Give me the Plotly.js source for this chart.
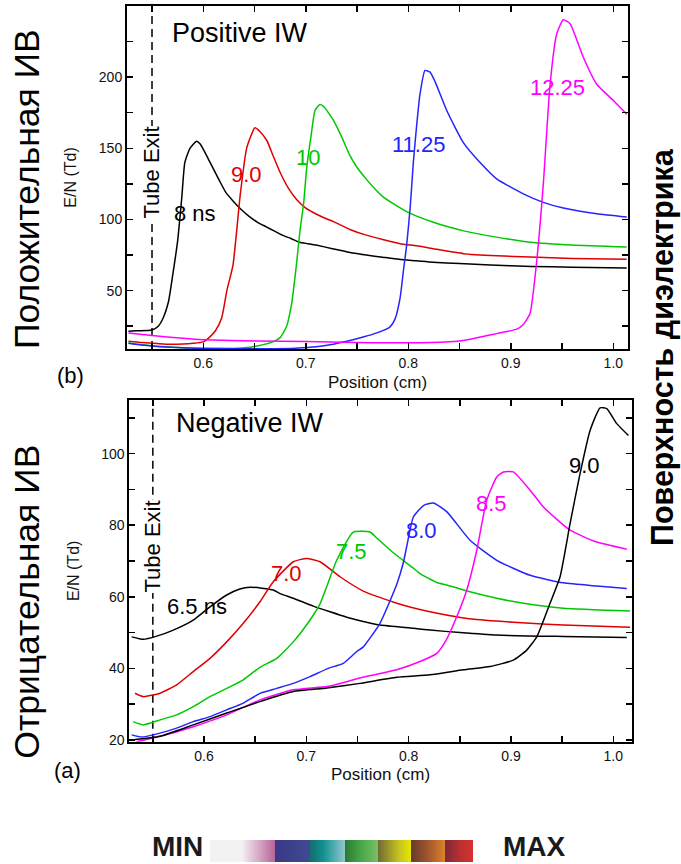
<!DOCTYPE html>
<html><head><meta charset="utf-8">
<script src="https://cdn.plot.ly/plotly-3.0.1.min.js"></script>
<style>html,body{margin:0;padding:0;background:#fff}#chart{width:681px;height:864px}</style>
</head><body><div id="chart"></div><script>
// ---------- Positive IW (top panel, b) ----------
var posLabels = ['8 ns', '9.0', '10', '11.25', '12.25'];
var pos8x = [0.527,0.535,0.545,0.550,0.556,0.561,0.566,0.570,0.575,0.579,0.582,0.587,0.5936,0.597,0.601,0.606,0.611,0.616,0.622,0.629,0.637,0.645,0.653,0.661,0.669,0.677,0.686,0.694,0.702,0.710,0.726,0.742,0.759,0.775,0.791,0.808,0.824,0.850,0.880,0.920,0.960,1.013];
var pos8y = [21.5,21.8,22,22.3,25,31,42,60,85,115,140,150,155,153,148,141,134,127,119,113,107,102,98,95,92,89,86.5,84,83,82,79.5,77,75,73.5,72,71,70,69,68,67,66.5,66];
var pos9x = [0.527,0.540,0.555,0.567,0.580,0.590,0.600,0.6065,0.612,0.618,0.623,0.629,0.636,0.6423,0.6504,0.655,0.662,0.668,0.675,0.683,0.691,0.700,0.711,0.720,0.727,0.743,0.759,0.775,0.792,0.808,0.824,0.854,0.887,0.919,0.960,1.013];
var pos9y = [14.4,13.5,12.8,12.3,12.5,13,14,17.5,22,31,50,68,117,150,164.5,162,155.5,145,133,122,114,108,103.5,100.5,98.5,93,89,86,83,81.5,79.5,76,74.5,73.6,72.6,72];
var pos10x = [0.527,0.540,0.555,0.570,0.590,0.610,0.623,0.640,0.655,0.668,0.675,0.681,0.686,0.691,0.694,0.698,0.701,0.705,0.709,0.7138,0.718,0.723,0.727,0.735,0.743,0.750,0.7594,0.768,0.7756,0.7984,0.8244,0.854,0.886,0.919,0.960,1.013];
var pos10y = [13.2,12,11,10.2,9.6,9.4,9.3,9.8,11.5,14,17,24.4,40,69,90,112,137,158,176.6,180.8,179,174,169.6,158,145,136.5,128,121,115.7,105.5,98,92,87.6,84,82,80.6];
var pos1125x = [0.527,0.540,0.555,0.570,0.600,0.630,0.660,0.690,0.710,0.7236,0.740,0.756,0.770,0.782,0.787,0.792,0.7954,0.7984,0.802,0.8049,0.808,0.8114,0.8163,0.8212,0.826,0.8375,0.8537,0.870,0.8862,0.9122,0.9317,0.9512,0.9838,1.0131];
var pos1125y = [13,11.8,10.8,10.2,9.4,9.2,9.2,9.6,10.5,12,14.5,17.4,20.5,24.4,30,45,65,82,110,140,165,188,204.7,203.5,197,176.6,154,140,128.5,118,112,108,104,101.7];
var pos1225x = [0.527,0.550,0.580,0.600,0.655,0.700,0.7236,0.750,0.8212,0.8537,0.8862,0.9058,0.912,0.9187,0.9253,0.9317,0.9383,0.9448,0.9512,0.9578,0.9707,0.9838,1.000,1.0131];
var pos1225y = [20.2,18.5,16.5,15.5,14.6,14.2,14,13.6,13.5,15,19.8,23,26,33.9,71,125,195,230.5,240.3,237.5,214,195,183.6,174];
var posLabelX = [0.5919, 0.6418, 0.7021, 0.8095, 0.9456];
var posLabelY = [103.9, 131.7, 143.6, 152.7, 192.4];

// ---------- Negative IW (bottom panel, a) ----------
var negLabels = ['6.5 ns', '7.0', '7.5', '8.0', '8.5', '9.0'];
var neg65x = [0.5293,0.5407,0.5538,0.570,0.5895,0.6059,0.6222,0.635,0.645,0.6677,0.6743,0.6873,0.7068,0.7232,0.7395,0.7525,0.772,0.8046,0.8209,0.8502,0.8861,0.9512,1.0132];
var neg65y = [48.8,48.1,49,50.7,53.5,57.2,60.5,62.2,62.7,61.9,60.9,59.6,57.4,55.8,54.3,53.3,52.1,51.2,50.7,50,49.3,48.9,48.6];
var neg70x = [0.5326,0.5407,0.557,0.5733,0.5895,0.6059,0.6222,0.6384,0.6547,0.6677,0.6873,0.7004,0.7134,0.7329,0.7557,0.7884,0.8209,0.8535,0.8861,0.9187,0.9512,1.0164];
var neg70y = [33.05,32.1,33.05,35.4,39.1,42.8,47.4,52.6,58.6,64.2,69.8,70.7,69.8,65.6,61.6,58.2,55.8,54.1,53.2,52.6,52.1,51.5];
var neg75x = [0.5309,0.5407,0.557,0.5733,0.5895,0.6059,0.6222,0.6384,0.6547,0.6711,0.6873,0.7036,0.7134,0.7199,0.7297,0.7459,0.7623,0.7686,0.785,0.8046,0.8111,0.8275,0.8372,0.8535,0.8861,0.9187,0.9512,1.0164];
var neg75y = [25.1,24.2,25.6,27,29.3,32.1,34.4,36.8,40.3,42.8,47.4,53.5,58,62.8,70.2,78.1,78.1,76.5,72.3,68,66.5,64,63.3,61.9,59.6,57.9,56.8,56];
var neg80x = [0.5293,0.5391,0.557,0.5733,0.5895,0.6059,0.6222,0.6384,0.6547,0.6711,0.6873,0.7036,0.7215,0.7362,0.7493,0.7557,0.772,0.7884,0.7948,0.7981,0.8046,0.8145,0.8241,0.8372,0.860,0.8861,0.9187,0.9512,0.9839,1.0132];
var neg80y = [21.4,20.8,21.9,23.3,25.1,26.5,28.4,30.3,33,34.4,35.8,37.7,40,41.4,44.7,46,52.6,63.5,69.5,74,82.3,85.5,86.2,83.8,75.8,70.2,66,63.9,63,62.3];
var neg85x = [0.5342,0.557,0.5895,0.6222,0.6547,0.6873,0.722,0.755,0.7884,0.8111,0.8275,0.8372,0.847,0.8568,0.8666,0.8763,0.8861,0.8926,0.9023,0.9187,0.9317,0.9578,0.9839,1.0132];
var neg85y = [19.5,21,23.7,27,31.2,34,35,37.5,39.6,41.9,44.2,48.2,54.4,61.9,73,87,93.5,94.9,94.9,89.8,85.1,78.6,75.3,73.3];
var neg90x = [0.5293,0.557,0.5895,0.6222,0.6547,0.6873,0.720,0.7525,0.7884,0.8209,0.8535,0.8796,0.9023,0.9154,0.9252,0.9382,0.948,0.9578,0.9675,0.9773,0.9871,0.9936,1.0034,1.0148];
var neg90y = [20,21,24.2,27.5,30.7,33.5,34.5,35.8,37.5,38.2,39.6,40.5,42.3,45.1,48.8,58.2,65.6,80.5,94.4,106.5,112.8,112.6,108.4,105.1];
var negLabelX = [0.5932, 0.6808, 0.7437, 0.8121, 0.8812, 0.9715];
var negLabelY = [57.3, 66.6, 72.6, 78.6, 86.05, 96.7];

var tubeExitX = 0.55;
var scaleColors = ['#f2f2f2','#f2f2f2','#f3e9ef','#b8649a','#3a3886','#3f4a92','#156c6e','#129090','#90c8cc','#2a7a32','#45a545','#78c068','#706a34','#c8c420','#e8e800','#6a3a2e','#a3562c','#dc822a','#7a2a38','#b83030','#d83030'];
var scalePos =    [0,0.126,0.1266,0.2469,0.247,0.3798,0.3799,0.43,0.5127,0.5128,0.57,0.6392,0.6393,0.72,0.766,0.7661,0.83,0.8925,0.8926,0.95,1];

var FONT = 'Liberation Sans, Arial, sans-serif';
var posColors = ['#000000','#e00000','#00c800','#2424ff','#ff00ff'];
var negColors = ['#000000','#e00000','#00c800','#2424ff','#ff00ff','#000000'];

function curve(x, y, color, xa, ya) {
  return {type:'scatter', mode:'lines', x:x, y:y, xaxis:xa, yaxis:ya,
    line:{color:color, width:1.5, shape:'spline', smoothing:0.5}, showlegend:false, hoverinfo:'skip'};
}
var posX = [pos8x,pos9x,pos10x,pos1125x,pos1225x];
var posY = [pos8y,pos9y,pos10y,pos1125y,pos1225y];
var negX = [neg65x,neg70x,neg75x,neg80x,neg85x,neg90x];
var negY = [neg65y,neg70y,neg75y,neg80y,neg85y,neg90y];
var traces = [];
for (var i = 0; i < posX.length; i++) traces.push(curve(posX[i], posY[i], posColors[i], 'x', 'y'));
for (var j = 0; j < negX.length; j++) traces.push(curve(negX[j], negY[j], negColors[j], 'x2', 'y2'));

var cs = scalePos.map(function(p, k){ return [p, scaleColors[k]]; });
traces.push({type:'heatmap', z:[[0,1]], x:[0,1], y:[0], xaxis:'x3', yaxis:'y3', opacity:0,
  colorscale:cs, zmin:0, zmax:1, showscale:true, hoverinfo:'skip',
  colorbar:{orientation:'h', x:341.65/681, xanchor:'center', y:1-840/864, yanchor:'top',
    len:263.3, lenmode:'pixels', thickness:22, thicknessmode:'pixels', xpad:0, ypad:0,
    outlinewidth:0, showticklabels:false, ticks:'', tickvals:[]}});

function axisX(domain, range, anchor) {
  return {domain:domain, range:range, anchor:anchor, showgrid:false, zeroline:false,
    showline:true, linecolor:'#000', linewidth:2, mirror:'allticks',
    ticks:'inside', ticklen:6, tickwidth:1.5, tickcolor:'#000', dtick:0.1, tick0:0, tickformat:'.1f',
    minor:{dtick:0.05, tick0:0, ticks:'inside', ticklen:6, tickwidth:1.5, tickcolor:'#000'},
    tickfont:{family:FONT, size:14, color:'#111'},
    title:{text:'Position (cm)', font:{family:FONT, size:17, color:'#111'}, standoff:6}};
}
function axisY(domain, range, anchor, dt, mdt) {
  return {domain:domain, range:range, anchor:anchor, showgrid:false, zeroline:false,
    showline:true, linecolor:'#000', linewidth:2, mirror:'allticks',
    ticks:'inside', ticklen:6, tickwidth:1.5, tickcolor:'#000', dtick:dt, tick0:0,
    minor:{dtick:mdt, tick0:0, ticks:'inside', ticklen:6, tickwidth:1.5, tickcolor:'#000'},
    tickfont:{family:FONT, size:14, color:'#111'},
    title:{text:'E/N (Td)', font:{family:FONT, size:16, color:'#111'}, standoff:18}};
}

function note(xref, yref, x, y, text, size, color, angle, extra) {
  var o = {xref:xref, yref:yref, x:x, y:y, text:text, showarrow:false, xanchor:'center', yanchor:'middle',
    textangle:angle || 0, borderpad:0, font:{family:FONT, size:size, color:color}};
  if (extra) for (var k in extra) o[k] = extra[k];
  return o;
}
var ann = [];
for (var a = 0; a < posLabels.length; a++) ann.push(note('x', 'y', posLabelX[a], posLabelY[a], posLabels[a], 22, posColors[a]));
for (var b = 0; b < negLabels.length; b++) ann.push(note('x2', 'y2', negLabelX[b], negLabelY[b], negLabels[b], 22, negColors[b]));
ann.push(note('x', 'y', 0.6358, 230.7, 'Positive IW', 27, '#000'));
ann.push(note('x2', 'y2', 0.645, 108.7, 'Negative IW', 27, '#000'));
ann.push(note('x', 'y', tubeExitX, 133, 'Tube Exit', 22, '#000', -90, {bgcolor:'#fff'}));
ann.push(note('x2', 'y2', tubeExitX, 74, 'Tube Exit', 22, '#000', -90, {bgcolor:'#fff'}));
ann.push(note('paper', 'paper', 27/681, 1-189/864, 'Положительная ИВ', 35.5, '#000', -90));
ann.push(note('paper', 'paper', 27/681, 1-601.7/864, 'Отрицательная ИВ', 35.5, '#000', -90));
ann.push(note('paper', 'paper', 662/681, 1-347/864, '<b>Поверхность диэлектрика</b>', 30.5, '#000', -90));
ann.push(note('paper', 'paper', 70/681, 1-375/864, '(b)', 22, '#000'));
ann.push(note('paper', 'paper', 67/681, 1-770/864, '(a)', 22, '#000'));
ann.push(note('paper', 'paper', 177.5/681, 1-862.5/864, '<b>MIN</b>', 28, '#1a1a1a', 0, {yanchor:'bottom'}));
ann.push(note('paper', 'paper', 534/681, 1-862.5/864, '<b>MAX</b>', 28, '#1a1a1a', 0, {yanchor:'bottom'}));

var shapes = [
  {type:'line', xref:'x', yref:'y domain', x0:tubeExitX, x1:tubeExitX, y0:0, y1:1, layer:'below', line:{color:'#000', width:1.5, dash:'8px,5px'}},
  {type:'line', xref:'x2', yref:'y2 domain', x0:tubeExitX, x1:tubeExitX, y0:0, y1:1, layer:'below', line:{color:'#000', width:1.5, dash:'8px,5px'}}
];

var layout = {
  width:681, height:864, margin:{l:0, r:0, t:0, b:0, autoexpand:false},
  paper_bgcolor:'#fff', plot_bgcolor:'rgba(0,0,0,0)', showlegend:false,
  xaxis: axisX([127/681, 628/681], [0.5256, 1.0143], 'y'),
  yaxis: axisY([1-349/864, 1-6/864], [9, 250], 'x', 50, 25),
  xaxis2: axisX([129.3/681, 631.7/681], [0.527, 1.018], 'y2'),
  yaxis2: axisY([1-741.7/864, 1-400/864], [19.5, 115], 'x2', 20, 10),
  xaxis3: {domain:[0,0.005], visible:false, anchor:'y3'},
  yaxis3: {domain:[0,0.005], visible:false, anchor:'x3'},
  annotations: ann, shapes: shapes
};
Plotly.newPlot('chart', traces, layout, {staticPlot:true, displayModeBar:false});
</script></body></html>
